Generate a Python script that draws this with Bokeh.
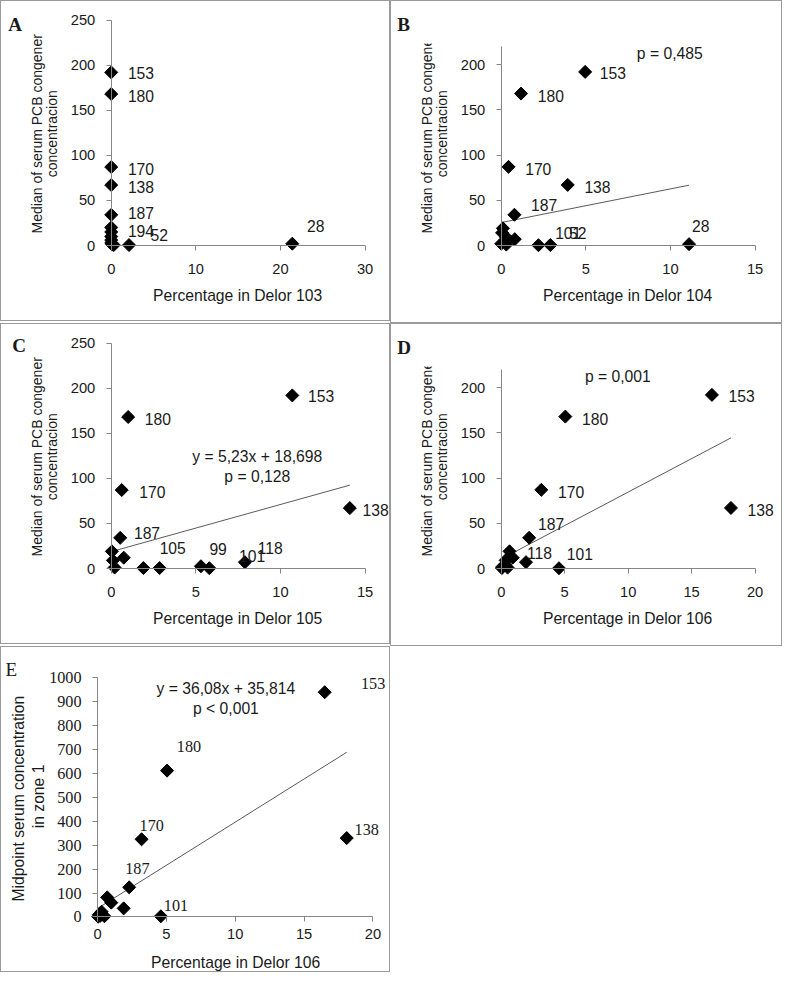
import math
from bokeh.plotting import figure
from bokeh.models import Range1d, FixedTicker, ColumnDataSource, LabelSet, Label
from bokeh.layouts import row, column
from bokeh.core.properties import value
from bokeh.embed import file_html
from bokeh.resources import INLINE

# ---------------- data ----------------
# Panel A: Delor 103
A_X = [0, 0, 0, 0, 0, 0, 0, 0, 0, 0, 0.1, 0.3, 2.1, 21.4]
A_Y = [192, 168, 87, 67, 34, 20, 15, 10, 6, 3, 1, 0.5, 0.5, 2]
A_LAB_TEXT = ["153", "180", "170", "138", "187", "194", "52", "28"]
A_LAB_IDX = [0, 1, 2, 3, 4, 6, 12, 13]

# Panel B: Delor 104
B_X = [4.96, 1.17, 0.43, 3.93, 0.78, 0.1, 0.05, 0.3, 0.8, 0.0, 0.3, 2.2, 2.9, 11.1]
B_Y = [192, 168, 87, 67, 34, 19, 14, 9, 7, 2, 1, 0.3, 0.5, 1.5]
B_LAB_TEXT = ["153", "180", "170", "138", "187", "101", "52", "28"]
B_LAB_IDX = [0, 1, 2, 3, 4, 11, 12, 13]
B_FIT = (3.72, 25.4)
B_NOTES = ["p = 0,485"]

# Panel C: Delor 105
C_X = [10.7, 1.0, 0.62, 14.1, 0.53, 0.04, 0.74, 0.1, 0.2, 1.9, 2.86, 5.3, 5.8, 7.9]
C_Y = [192, 168, 87, 67, 34, 19, 12, 9, 1, 0.5, 0.5, 2.5, 0.3, 7]
C_LAB_TEXT = ["153", "180", "170", "138", "187", "105", "99", "101", "118"]
C_LAB_IDX = [0, 1, 2, 3, 4, 10, 12, 13, 13]
C_FIT = (5.23, 18.698)
C_NOTES = ["y = 5,23x + 18,698", "p = 0,128"]

# Panel D: Delor 106
D_X = [16.6, 5.05, 3.16, 18.1, 2.2, 0.65, 0.9, 1.95, 4.55, 0.1, 0.3, 0.5, 0.05, 0.35]
D_Y = [192, 168, 87, 67, 34, 19, 12, 7, 0.3, 2, 4, 1, 0.5, 9]
D_LAB_TEXT = ["153", "180", "170", "138", "187", "118", "101"]
D_LAB_IDX = [0, 1, 2, 3, 4, 7, 8]
D_FIT = (7.4, 10.5)
D_NOTES = ["p = 0,001"]

# Panel E: Delor 106, midpoint serum concentration in zone 1
E_X = [16.5, 5.05, 3.2, 18.1, 2.3, 0.7, 1.0, 1.9, 4.6, 0.1, 0.3, 0.5, 0.05, 0.2]
E_Y = [940, 612, 325, 330, 124, 82, 60, 36, 3, 10, 22, 3, 1, 5]
E_LAB_TEXT = ["153", "180", "170", "138", "187", "101"]
E_LAB_IDX = [0, 1, 2, 3, 4, 8]
E_FIT = (36.08, 35.814)
E_NOTES = ["y = 36,08x + 35,814", "p < 0,001"]

X_TITLES = ["Percentage in Delor 103", "Percentage in Delor 104", "Percentage in Delor 105",
            "Percentage in Delor 106", "Percentage in Delor 106"]
Y_TITLE_MED = ["Median of serum PCB congener", "concentracion"]
Y_TITLE_MID = ["Midpoint  serum concentration", "in zone 1"]

# ---------------- style / layout (reference pixels, scaled by S) ----------------
S = 0.98
BW = 1
SANS = "Liberation Sans"
SERIF = "Liberation Serif"
TXT = "#1a1a1a"
AXC = "#868686"
TREND = "#5a5a5a"
BORDER_C = "#9a9a9a"


def c(v):
    return v * S - BW


def fs(v):
    return f"{v * S:.1f}px"


def style_axis(ax, ticks, font, size, standoff):
    ax.ticker = FixedTicker(ticks=ticks, minor_ticks=[])
    ax.axis_line_color = AXC
    ax.axis_line_width = 1
    ax.major_tick_line_color = AXC
    ax.minor_tick_line_color = None
    ax.major_tick_out = 5
    ax.major_tick_in = 0
    ax.major_label_text_font = font
    ax.major_label_text_font_size = fs(size)
    ax.major_label_text_color = TXT
    ax.major_label_standoff = round(standoff * S)


def add_label(p, text, x, y, size, font, angle=0.0, align="center", baseline="middle", style="normal"):
    p.add_layout(Label(x=x, y=y, text=text, text_font=font, text_font_size=fs(size),
                       text_color=TXT, angle=angle, text_align=align, text_baseline=baseline,
                       text_font_style=style))


def build(cfg):
    W, H = cfg["W"], cfg["H"]
    Wc = round(W * S) - 2 * BW
    Hc = round(H * S) - 2 * BW
    clip = cfg["clip"]
    top_off = round(c(cfg["clip_at"])) if clip else 0
    Hf = Hc - top_off
    # axis geometry in canvas pixels
    x0p, x1p = c(cfg["L"]), c(cfg["R"])
    y0p, y1p = c(cfg["Bo"]) - top_off, c(cfg["T"]) - top_off
    xmax, ymax = cfg["xmax"], cfg["ymax"]
    ux = xmax / (x1p - x0p)
    uy = ymax / (y0p - y1p)

    def dx(px):
        return (c(px) - x0p) * ux

    def dy(py):
        return (y0p - (c(py) - top_off)) * uy

    # the frame covers the whole canvas; axes are drawn at x=0 / y=0
    p = figure(width=Wc, height=Hf,
               x_range=Range1d((0 - x0p) * ux, (Wc - x0p) * ux),
               y_range=Range1d((y0p - Hf) * uy, y0p * uy),
               min_border=0, min_border_left=0, min_border_right=0,
               min_border_top=0, min_border_bottom=0,
               toolbar_location=None, output_backend="svg")
    p.grid.visible = False
    p.outline_line_color = None
    p.background_fill_color = "white"
    p.border_fill_color = "white"

    p.xaxis.fixed_location = 0
    p.yaxis.fixed_location = 0
    p.xaxis.bounds = (0, xmax)
    p.yaxis.bounds = (0, ymax)
    style_axis(p.xaxis[0], cfg["xticks"], SANS, 15, cfg["xstand"])
    style_axis(p.yaxis[0], cfg["yticks"], cfg["ytick_font"], cfg["ytick_size"], 11)

    xs, ys = cfg["x"], cfg["y"]
    if cfg.get("fit"):
        a, b = cfg["fit"]
        xe = max(xs)
        p.line([0, xe], [b, a * xe + b], line_color=TREND, line_width=1)
    p.scatter(xs, ys, marker="square", angle=math.pi / 4, size=9.4 * S,
              fill_color="black", line_color="black")

    offs = cfg["lab_off"]
    src = ColumnDataSource(dict(
        x=[xs[i] for i in cfg["lab_idx"]],
        y=[ys[i] for i in cfg["lab_idx"]],
        t=cfg["lab_text"],
        ox=[o[0] * S for o in offs],
        oy=[o[1] * S for o in offs],
    ))
    p.add_layout(LabelSet(x="x", y="y", text="t", x_offset="ox", y_offset="oy", source=src,
                          text_font=value(cfg["lab_font"]), text_font_size=value(fs(cfg["lab_size"])),
                          text_color=TXT, text_align="left", text_baseline="middle"))

    for text, (nx, ny) in zip(cfg["notes"], cfg["note_pos"]):
        add_label(p, text, dx(nx), dy(ny), 16, SANS)

    tx, ty = cfg["xtitle_pos"]
    add_label(p, cfg["xtitle"], dx(tx), dy(ty), 16, SANS)
    for text, (yx, yy) in zip(cfg["ytitle"], cfg["ytitle_pos"]):
        add_label(p, text, dx(yx), dy(yy), cfg["ytitle_size"], SANS, angle=math.pi / 2)

    lx, lb = cfg["letter_pos"]
    style = "bold" if cfg["letter_bold"] else "normal"
    border = {"border": f"{BW}px solid {BORDER_C}"}
    if not clip:
        add_label(p, cfg["letter"], dx(lx), dy(lb), 19.5, SERIF, align="left",
                  baseline="alphabetic", style=style)
        p.styles = border
        return p
    h = figure(width=Wc, height=top_off, x_range=Range1d(0, Wc), y_range=Range1d(0, top_off),
               x_axis_type=None, y_axis_type=None, min_border=0, min_border_left=0,
               min_border_right=0, min_border_top=0, min_border_bottom=0,
               toolbar_location=None, output_backend="svg")
    h.grid.visible = False
    h.outline_line_color = None
    add_label(h, cfg["letter"], c(lx), top_off - c(lb), 19.5, SERIF, align="left",
              baseline="alphabetic", style=style)
    return column(h, p, styles=border)


common_med = dict(W=400, H=330, L=113, R=372, Bo=250, ytick_font=SANS, ytick_size=15,
                  lab_font=SANS, lab_size=16, xstand=13, ytitle=Y_TITLE_MED,
                  ytitle_pos=[(37, 136), (53, 136)], ytitle_size=14.3, xtitle_pos=(242, 301),
                  letter_bold=True)

cfgA = dict(common_med, T=20, clip=False, xmax=30, ymax=250, xticks=[0, 10, 20, 30],
            yticks=[0, 50, 100, 150, 200, 250], x=A_X, y=A_Y, lab_text=A_LAB_TEXT, lab_idx=A_LAB_IDX,
            lab_off=[(17, -1), (17, -2), (17, -2), (17, -2), (17, 2), (17, 1), (22, 10), (15, 18)],
            fit=None, notes=[], note_pos=[], xtitle=X_TITLES[0], letter="A", letter_pos=(8, 24))

cfgB = dict(common_med, T=47, clip=True, clip_at=44, xmax=15, ymax=220, xticks=[0, 5, 10, 15],
            yticks=[0, 50, 100, 150, 200], x=B_X, y=B_Y, lab_text=B_LAB_TEXT, lab_idx=B_LAB_IDX,
            lab_off=[(15, -1), (17, -2), (17, -2), (17, -2), (17, 10), (17, 12), (19, 12), (3, 19)],
            fit=B_FIT, notes=B_NOTES, note_pos=[(285, 54)], xtitle=X_TITLES[1], letter="B",
            letter_pos=(7, 24))

cfgC = dict(common_med, T=20, clip=False, xmax=15, ymax=250, xticks=[0, 5, 10, 15],
            yticks=[0, 50, 100, 150, 200, 250], x=C_X, y=C_Y, lab_text=C_LAB_TEXT, lab_idx=C_LAB_IDX,
            lab_off=[(16, -1), (17, -2), (18, -2), (13, -2), (14, 5), (0, 20), (0, 20), (-6, 6), (13, 14)],
            fit=C_FIT, notes=C_NOTES, note_pos=[(262, 136), (262, 156)], xtitle=X_TITLES[2],
            letter="C", letter_pos=(12, 22))

cfgD = dict(common_med, T=47, clip=True, clip_at=44, xmax=20, ymax=220, xticks=[0, 5, 10, 15, 20],
            yticks=[0, 50, 100, 150, 200], x=D_X, y=D_Y, lab_text=D_LAB_TEXT, lab_idx=D_LAB_IDX,
            lab_off=[(17, -1), (17, -2), (17, -2), (17, -2), (9, 14), (1, 9), (8, 15)],
            fit=D_FIT, notes=D_NOTES, note_pos=[(232, 54)], xtitle=X_TITLES[3], letter="D",
            letter_pos=(7, 24))

cfgE = dict(W=400, H=335, L=99, R=380, T=32, Bo=276, clip=False, xmax=20, ymax=1000,
            xticks=[0, 5, 10, 15, 20], yticks=list(range(0, 1001, 100)), ytick_font=SERIF,
            ytick_size=16.5, lab_font=SERIF, lab_size=16.5, xstand=7.5, x=E_X, y=E_Y,
            lab_text=E_LAB_TEXT, lab_idx=E_LAB_IDX,
            lab_off=[(37, 9), (10, 25), (-2, 14), (8, 9), (-4, 19), (3, 11)],
            fit=E_FIT, notes=E_NOTES, note_pos=[(230, 43), (230, 63)], xtitle=X_TITLES[4],
            xtitle_pos=(240, 322), ytitle=Y_TITLE_MID, ytitle_pos=[(18, 153), (39, 153)],
            ytitle_size=16, letter="E", letter_pos=(5, 23), letter_bold=False)

pA, pB, pC, pD, pE = (build(cf) for cf in (cfgA, cfgB, cfgC, cfgD, cfgE))

layout = column(row(pA, pB), row(pC, pD), row(pE))

with open("out.html", "w") as f:
    f.write(file_html(layout, INLINE, title="PCB congeners vs Delor composition"))
